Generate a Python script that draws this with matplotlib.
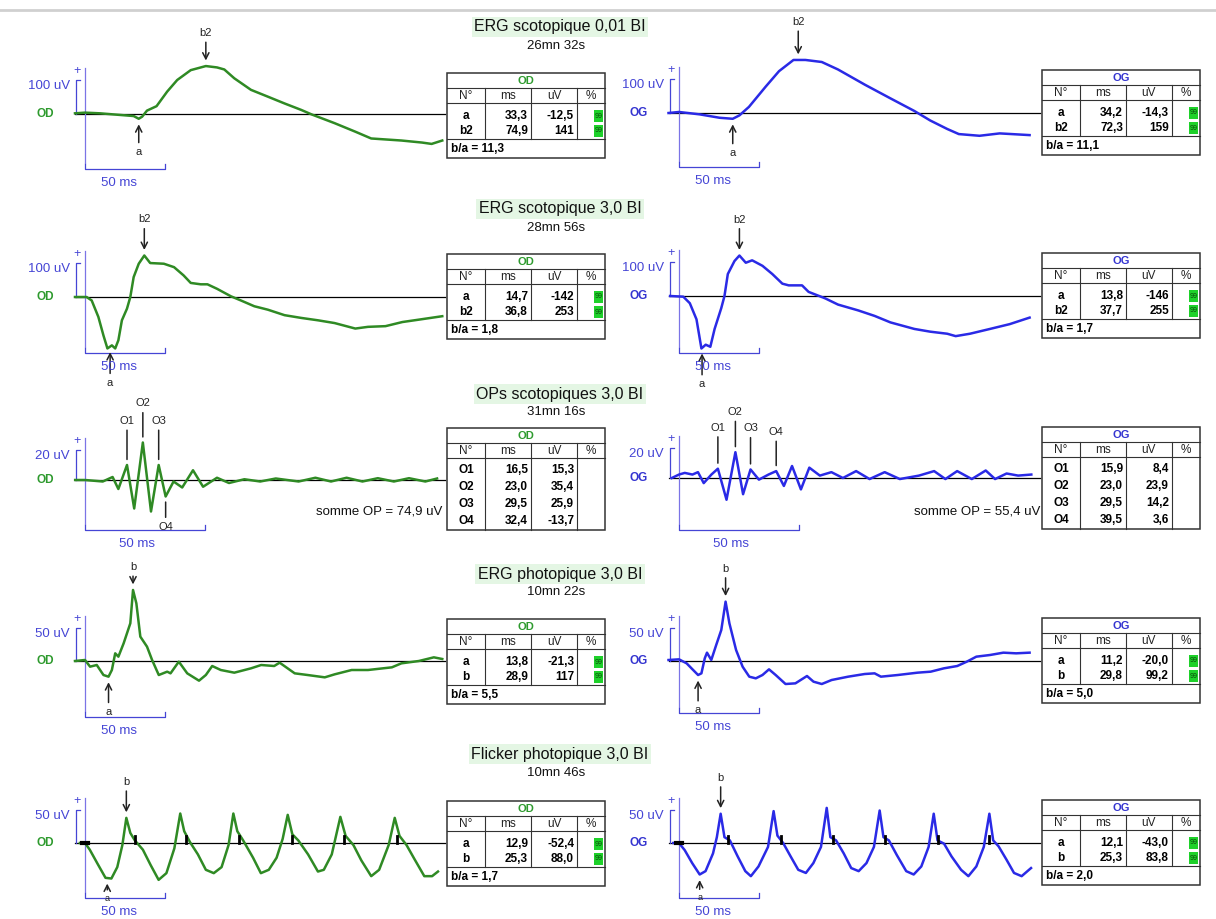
import numpy as np
import matplotlib
matplotlib.use('Agg')
import matplotlib.pyplot as plt
from matplotlib.patches import Rectangle

plt.rcParams['font.family'] = ['Liberation Sans', 'DejaVu Sans']

# ---------------- data (ms, uV) ----------------
titles = ['ERG scotopique 0,01 BI', 'ERG scotopique 3,0 BI', 'OPs scotopiques 3,0 BI',
          'ERG photopique 3,0 BI', 'Flicker photopique 3,0 BI']
subtitles = ['26mn 32s', '28mn 56s', '31mn 16s', '10mn 22s', '10mn 46s']

scot001_od_t = [-6.3, 0, 9.5, 20, 30.6, 33.8, 35.9, 39, 45, 51.7, 58, 66.5, 76, 83, 87.6, 93.9,
                104.4, 115, 125.5, 136, 142.4, 157, 170, 180, 199, 212, 218, 224.7]
scot001_od_v = [2, 4, 2, -2, -6, -14, -8, 10, 23, 66, 100, 129, 141, 137, 131, 105,
                71, 51, 31, 12, -1, -27, -52, -72, -78, -84, -88, -78]
scot001_og_t = [-6.6, 0, 13, 25.5, 33.8, 38, 44, 54.6, 62.9, 72, 79.5, 89.8, 100, 117, 133,
                148, 158, 168.7, 176, 189, 201.7, 220.5]
scot001_og_v = [0, 3, -4, -14, -17, -7, 18, 78, 123, 156, 156, 150, 128, 83, 43,
                6, -22, -47, -62, -67, -60, -65]

scot30_od_t = [-6.3, 1, 4.2, 8.4, 11.6, 14.1, 16.9, 19, 21, 23.2, 26.4, 28.5, 30.6, 33.8, 37.3,
               41, 49.6, 56, 62, 66.5, 72.8, 77, 83, 91.8, 98, 106.5, 115, 125.5, 136, 146.6,
               157, 170, 178, 189, 199.6, 210, 224.7]
scot30_od_v = [0, 0, -10, -58, -112, -150, -141, -150, -126, -68, -34, 0, 58, 97, 121,
               99, 97, 87, 63, 41, 37, 37, 24, 2, -10, -27, -37, -53, -61, -68,
               -76, -92, -87, -85, -73, -66, -56]
scot30_og_t = [-5.6, 2.7, 6.8, 11, 14.1, 16.8, 19.7, 22.4, 26.6, 28.6, 30.7, 34.9, 38, 42, 46,
               52.5, 58.7, 65, 69, 77.4, 81.5, 92, 100, 112.7, 123, 133, 148, 158, 168.7, 174,
               183, 195.6, 208, 220.5]
scot30_og_v = [0, -2, -21, -68, -153, -142, -148, -96, -35, 0, 64, 102, 118, 97, 104,
               88, 64, 36, 31, 31, 12, -7, -25, -42, -58, -77, -96, -104, -110, -117,
               -110, -96, -82, -63]

ops_od_t = [-4.1, 0, 7.4, 11.5, 13.9, 17.5, 20.5, 24.1, 27.5, 30.7, 33.6, 36.9, 40.5, 45, 49.2,
            55, 60, 66.4, 73, 79.5, 89, 96, 102.5, 109, 115.6, 122, 128.7, 135, 141.8, 146.7]
ops_od_v = [0, 0, -1, 2, -6, 10, -19, 25, -21, 10, -11, -1, -5, 6.5, -4.5,
            1.5, -2, 0.5, -1, 1, -1, 1.5, -1, 1.5, -1, 1.2, -1, 1.2, -1, 1]
ops_og_t = [-3, 0, 2.4, 5.6, 7.9, 10.3, 13.5, 16.2, 19.8, 23.5, 26.7, 29.8, 33.3, 37.3, 40.5,
            43.7, 47.1, 50.8, 54.3, 58.7, 63.5, 68.3, 73.8, 79.4, 85.7, 92, 100, 106.3, 111,
            115.9, 122, 127.8, 131.7, 136.5, 141.3, 146.8]
ops_og_v = [0, 2.3, 3.4, 2.3, 3.9, -3.4, 2.3, 6.2, -14.5, 17.2, -10.8, 5.7, -1.1, 2.3, 4.6,
            -5.3, 8, -7.6, 6.9, 1.6, 3.9, 0, 4.6, -0.7, 3.9, -0.7, 1.6, 4.6, -0.7,
            4.6, -0.7, 5, -0.7, 3, 1.6, 2.3]

phot_od_t = [-6.3, 0, 3.2, 7.4, 11.6, 14.8, 16.9, 19, 21, 24.3, 26.4, 28.5, 30.2, 32.3, 34.8,
             39, 42.2, 46.4, 51.7, 53.8, 59, 64.3, 71.7, 76, 80, 85.4, 93.9, 104.4, 110.8,
             119, 122.4, 131.9, 140, 150.8, 157, 167.7, 178, 193, 199, 210, 219.4, 224.7]
phot_od_v = [0, 1.5, -8.5, -6, -21, -23.5, -13.5, 11.5, 6.5, 26.5, 41.5, 56.5, 106.5, 86.5, 36.5,
             21.5, 1.5, -21, -16, -18.5, -1, -18.5, -29.5, -21, -7.5, -13.5, -17.5, -11, -6,
             -7.5, -2.5, -18.5, -21, -24.5, -20, -13.5, -13.5, -9.5, -3.5, 0, 5.5, 3]
phot_og_t = [-6.6, 0, 4.8, 8.9, 12, 14.1, 16.2, 17.6, 20.3, 23.4, 26.6, 29.3, 31.7, 35.9, 40,
             44.2, 48.3, 52.5, 56.6, 60.8, 67, 73.2, 80.5, 84.6, 89.8, 96, 106.4, 116.8, 123,
             127, 137.6, 150, 158.3, 166.6, 175, 181, 187, 195.6, 204, 212, 220.5]
phot_og_v = [1.5, 2.5, -3.5, -13.5, -21, -18.5, 4, 12.5, 1.5, 24, 46.5, 89, 56.5, 16.5, -8.5,
             -23.5, -26, -21, -12.5, -21, -34.5, -33.5, -22.5, -31, -34.5, -28.5, -23.5, -19.5, -18.5,
             -23.5, -21, -17.5, -16, -11, -7.5, -1, 6.5, 9, 12.5, 11.5, 12.5]

flick_od_t = [-3.2, 0, 3, 7.9, 12.9, 16.6, 20.3, 23.5, 26, 28.5, 31.4, 36.4, 41.3, 46.3, 51.2,
              56.2, 59.9, 62.4, 66, 71, 76, 81, 85.9, 90.3, 93.3, 95.8, 99.5, 105.7, 110.6,
              115.6, 120.5, 124.3, 127.5, 130.4, 134.2, 140.3, 146.5, 150.2, 155.2, 160.6, 163.9,
              168.8, 173.8, 180, 185, 191, 194.8, 197.8, 202.2, 207.2, 213.4, 218.3, 222]
flick_od_v = [0, 0, -10, -31, -52, -53, -36, -3, 37.5, 15, 3.7, -10, -33, -55, -45,
              -8, 44, 17.6, 1.4, -17, -40, -45, -36, -3, 44, 17.6, 3.7, -22, -45,
              -40, -22, 6, 42, 13, 3.7, -17, -42.6, -40, -17, 39, 10.6,
              -3, -26, -49.5, -40, -3, 37.5, 10.6, -3, -24, -49.5, -49.5, -42.6]
flick_og_t = [-3.6, 0, 3.6, 8.3, 13, 16.7, 21.4, 23.8, 26.2, 28.6, 32, 36.9, 41.7, 45.2, 50,
              56, 59.5, 61.9, 65.5, 70.2, 75, 79.8, 84.5, 89.3, 92.9, 95.2, 98.8, 103.6, 108.3,
              113, 117.9, 122.6, 126.2, 128.6, 132, 137, 142.9, 147.6, 152.4, 157, 160.2, 162.6,
              166.7, 171.4, 177.4, 182, 187, 191.7, 195.2, 197.6, 201, 206, 210.7, 215.5, 221.4]
flick_og_v = [0, 0, -10.7, -30, -47, -42, -15.5, 8.7, 43.7, 8.7, 3.9, -20, -42, -49.5, -35,
              -5.8, 47.6, 11, 0, -20, -40, -44.7, -30, -5.8, 52.4, 8.7, 3.9, -15.5, -37.4,
              -42, -30, -5.8, 48.5, 8.7, 3.9, -18, -42, -47, -35, -5.8, 43.7, 3.9,
              -1, -20, -40, -49.5, -35, -5.8, 43.7, 3.9, -5, -25, -44.7, -49.5, -37.4]
flick_od_marks = [31.4, 63.6, 97, 130.4, 162.6, 196]
flick_og_marks = [31, 64.3, 97, 129.8, 162.6, 195.2]

# result tables
scot001_od_tab = [('a', '33,3', '-12,5', '99'), ('b2', '74,9', '141', '99')]
scot001_og_tab = [('a', '34,2', '-14,3', '99'), ('b2', '72,3', '159', '99')]
scot30_od_tab = [('a', '14,7', '-142', '99'), ('b2', '36,8', '253', '99')]
scot30_og_tab = [('a', '13,8', '-146', '99'), ('b2', '37,7', '255', '99')]
ops_od_tab = [('O1', '16,5', '15,3', ''), ('O2', '23,0', '35,4', ''),
              ('O3', '29,5', '25,9', ''), ('O4', '32,4', '-13,7', '')]
ops_og_tab = [('O1', '15,9', '8,4', ''), ('O2', '23,0', '23,9', ''),
              ('O3', '29,5', '14,2', ''), ('O4', '39,5', '3,6', '')]
phot_od_tab = [('a', '13,8', '-21,3', '99'), ('b', '28,9', '117', '99')]
phot_og_tab = [('a', '11,2', '-20,0', '99'), ('b', '29,8', '99,2', '99')]
flick_od_tab = [('a', '12,9', '-52,4', '99'), ('b', '25,3', '88,0', '99')]
flick_og_tab = [('a', '12,1', '-43,0', '99'), ('b', '25,3', '83,8', '99')]
ratio_od = ['b/a = 11,3', 'b/a = 1,8', None, 'b/a = 5,5', 'b/a = 1,7']
ratio_og = ['b/a = 11,1', 'b/a = 1,7', None, 'b/a = 5,0', 'b/a = 2,0']
somme_od = 'somme OP = 74,9 uV'
somme_og = 'somme OP = 55,4 uV'

# ---------------- style / layout ----------------
W, H = 1216, 919
GREEN = '#2f8a24'
GREEN_TXT = '#2e9a2e'
BLUE = '#2a2ae6'
BLUE_TXT = '#3434d0'
SCALE = '#4545d5'
AXIS = '#7b74e6'
INK = '#222222'

fig = plt.figure(figsize=(W / 100, H / 100), dpi=100, facecolor='white')
pg = fig.add_axes([0, 0, 1, 1])
pg.set_xlim(0, W)
pg.set_ylim(H, 0)
pg.axis('off')
pg.plot([0, W], [10, 10], color='#d0d0d0', lw=2)


def panel(ox, by, pxms, pxuv):
    l, r, t, b = ox - 95, ox + 370, by - 150, by + 90
    ax = fig.add_axes([l / W, 1 - b / H, (r - l) / W, (b - t) / H])
    ax.set_xlim((l - ox) / pxms, (r - ox) / pxms)
    ax.set_ylim((by - b) / pxuv, (by - t) / pxuv)
    ax.axis('off')
    return ax


def draw_trace(ax, pxms, pxuv, t, v, color, eye, eye_color, amp, amp_lbl, br_px, end_px):
    ax.plot([-10 / pxms, end_px / pxms], [0, 0], color='black', lw=0.9, zorder=2, clip_on=False)
    ax.plot(t, v, color=color, lw=1.8, zorder=3, clip_on=False, solid_joinstyle='round')
    ybr = -br_px / pxuv
    ax.plot([0, 0], [amp + 12 / pxuv, ybr + 6 / pxuv], color=AXIS, lw=0.9, clip_on=False)
    ax.plot([-9 / pxms, -9 / pxms, -5 / pxms], [0, amp, amp], color=SCALE, lw=0.9, clip_on=False)
    ax.text(-8 / pxms, amp + 9 / pxuv, '+', color=SCALE, fontsize=9, ha='center', va='center')
    ax.text(-15 / pxms, amp - 6 / pxuv, amp_lbl, color=SCALE, fontsize=9.5, ha='right', va='center')
    ax.text(-40 / pxms, 0, eye, color=eye_color, fontsize=8.5, fontweight='bold',
            ha='center', va='center')
    ax.plot([0, 0, 50, 50], [ybr + 5 / pxuv, ybr, ybr, ybr + 5 / pxuv], color=SCALE, lw=0.9,
            clip_on=False)
    ax.text(21.5, ybr - 14 / pxuv, '50 ms', color=SCALE, fontsize=9.5, ha='center', va='center',
            zorder=5)


def mark(ax, t, v, label, at, kind, length, gap=4, size=8):
    y = np.interp(at, t, v)
    above = kind in ('down', 'line_above')
    head = '->,head_length=0.55,head_width=0.28' if kind in ('down', 'up') else '-'
    ax.annotate(label, xy=(at, y), xytext=(0, length if above else -length),
                textcoords='offset pixels', ha='center', va='bottom' if above else 'top',
                fontsize=size, color=INK, annotation_clip=False,
                arrowprops=dict(arrowstyle=head, lw=1.1, color=INK, shrinkA=1, shrinkB=gap,
                                mutation_scale=8))


def table(L, T, title, tcolor, rows, footer):
    cols = [L, L + 38, L + 84, L + 130, L + 158]
    step = 15 if footer else 17
    bottom = T + 85 if footer else T + 102
    grid_end = T + 66 if footer else bottom
    pg.add_patch(Rectangle((L, T), 158, bottom - T, fill=False, ec='#333333', lw=1.1))
    for yy in (T + 15, T + 30):
        pg.plot([L, L + 158], [yy, yy], color='#333333', lw=0.8)
    if footer:
        pg.plot([L, L + 158], [grid_end, grid_end], color='#333333', lw=0.8)
    for xx in cols[1:4]:
        pg.plot([xx, xx], [T + 15, grid_end], color='#333333', lw=0.8)
    pg.text(L + 79, T + 8, title, color=tcolor, fontsize=8, fontweight='bold', ha='center', va='center')
    for i, h in enumerate(['N°', 'ms', 'uV', '%']):
        pg.text((cols[i] + cols[i + 1]) / 2, T + 23, h, fontsize=8.5, ha='center', va='center', color=INK)
    for j, (lab, ms, uv, pc) in enumerate(rows):
        yy = T + 43 + j * step - (0 if footer else 1)
        pg.text((cols[0] + cols[1]) / 2, yy, lab, fontsize=8.5, fontweight='bold', ha='center', va='center')
        pg.text(cols[2] - 3, yy, ms, fontsize=8.5, fontweight='bold', ha='right', va='center')
        pg.text(cols[3] - 3, yy, uv, fontsize=8.5, fontweight='bold', ha='right', va='center')
        if pc:
            pg.add_patch(Rectangle((cols[4] - 11, yy - 6), 9, 12, color='#1ed12a', lw=0))
            pg.text(cols[4] - 6.5, yy, pc, fontsize=5, ha='center', va='center', color='#0a4a0a')
    if footer:
        pg.text(L + 4, T + 76, footer, fontsize=8.5, fontweight='bold', ha='left', va='center')


rows = [
    dict(ty=27, sy=46, pxms=1.59, pxuv=0.34, amp=100, lbl='100 uV',
         od=(scot001_od_t, scot001_od_v, 114, 55, scot001_od_tab, 73,
             [('b2', 76, 'down', 28), ('a', 33.8, 'up', 28)]),
         og=(scot001_og_t, scot001_og_v, 113, 54, scot001_og_tab, 70,
             [('b2', 75, 'down', 33), ('a', 33.8, 'up', 29)])),
    dict(ty=209, sy=228, pxms=1.59, pxuv=0.343, amp=100, lbl='100 uV',
         od=(scot30_od_t, scot30_od_v, 297, 56, scot30_od_tab, 254,
             [('b2', 37.3, 'down', 31), ('a', 15.8, 'up', 31)]),
         og=(scot30_og_t, scot30_og_v, 296, 57, scot30_og_tab, 253,
             [('b2', 38, 'down', 31), ('a', 14.5, 'up', 31)])),
    dict(ty=394, sy=412, pxms=2.4, pxuv=1.5, amp=20, lbl='20 uV',
         od=(ops_od_t, ops_od_v, 480, 50, ops_od_tab, 428,
             [('O1', 17.5, 'line_above', 39), ('O2', 24.1, 'line_above', 34),
              ('O3', 30.7, 'line_above', 39), ('O4', 33.6, 'line_below', 25)]),
         og=(ops_og_t, ops_og_v, 478, 52, ops_og_tab, 427,
             [('O1', 16.2, 'line_above', 36), ('O2', 23.5, 'line_above', 35),
              ('O3', 29.8, 'line_above', 36), ('O4', 40.5, 'line_above', 34)])),
    dict(ty=574, sy=592, pxms=1.59, pxuv=0.667, amp=50, lbl='50 uV',
         od=(phot_od_t, phot_od_v, 661, 56, phot_od_tab, 619,
             [('b', 30.2, 'down', 18), ('a', 14.8, 'up', 30)]),
         og=(phot_og_t, phot_og_v, 661, 52, phot_og_tab, 618,
             [('b', 29.3, 'down', 28), ('a', 12, 'up', 30)])),
    dict(ty=754, sy=773, pxms=1.59, pxuv=0.67, amp=50, lbl='50 uV',
         od=(flick_od_t, flick_od_v, 843, 55, flick_od_tab, 801,
             [('b', 26, 'down', 31), ('a', 14, 'up', 16)]),
         og=(flick_og_t, flick_og_v, 843, 55, flick_og_tab, 800,
             [('b', 26.2, 'down', 31), ('a', 13, 'up', 19)])),
]

for k, row in enumerate(rows):
    pg.text(560, row['ty'], titles[k], fontsize=11.5, ha='center', va='center', color='#111111',
            bbox=dict(boxstyle='square,pad=0.15', fc='#e4f6e4', ec='none'))
    pg.text(556, row['sy'], subtitles[k], fontsize=9.5, ha='center', va='center', color='#111111')
    for side, ox, tl, color, eye, ecol, end_px in (
            ('od', 85, 447, GREEN, 'OD', GREEN_TXT, 360),
            ('og', 679, 1042, BLUE, 'OG', BLUE_TXT, 361)):
        t, v, by, br, tab, ttop, marks = row[side]
        ax = panel(ox, by, row['pxms'], row['pxuv'])
        draw_trace(ax, row['pxms'], row['pxuv'], t, v, color, eye, ecol,
                   row['amp'], row['lbl'], br, end_px)
        for lab, at, kind, length in marks:
            # the flicker "a" sits just above the time scale label
            size = 6.5 if (k == 4 and lab == 'a') else 8
            mark(ax, t, v, lab, at, kind, length, size=size)
        if k == 4:
            fm = flick_od_marks if side == 'od' else flick_og_marks
            for m in fm:
                ax.plot([m, m], [0, 7 / row['pxuv']], color='black', lw=2, zorder=4)
            ax.plot([-2, 2], [0, 0], color='black', lw=3, zorder=4)
        ratio = (ratio_od if side == 'od' else ratio_og)[k]
        table(tl, ttop, eye, ecol, tab, ratio)

pg.text(442, 511, somme_od, fontsize=9.5, ha='right', va='center', color='#111111')
pg.text(1040, 511, somme_og, fontsize=9.5, ha='right', va='center', color='#111111')

fig.savefig('out.png', dpi=100, facecolor='white')
